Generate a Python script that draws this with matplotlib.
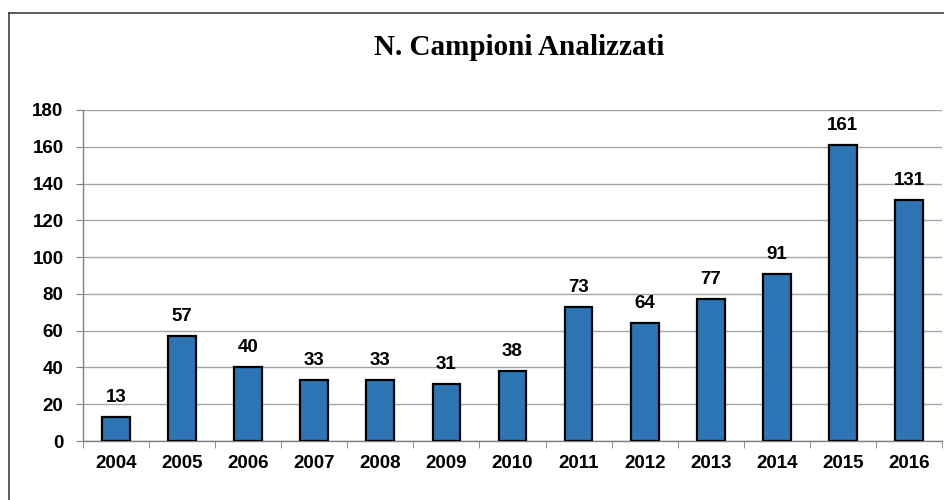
import matplotlib
matplotlib.use("Agg")
import matplotlib.pyplot as plt
from matplotlib.lines import Line2D

years = ["2004", "2005", "2006", "2007", "2008", "2009", "2010",
         "2011", "2012", "2013", "2014", "2015", "2016"]
values = [13, 57, 40, 33, 33, 31, 38, 73, 64, 77, 91, 161, 131]
yticks = [0, 20, 40, 60, 80, 100, 120, 140, 160, 180]

fig = plt.figure(figsize=(9.44, 5.0), dpi=100)
ax = fig.add_axes([0.0879, 0.118, 0.9100, 0.662])

x = list(range(len(years)))
ax.bar(x, values, width=0.42, color="#2E75B6", edgecolor="black", linewidth=1.6, zorder=3)

ax.set_xlim(-0.5, len(years) - 0.5)
ax.set_ylim(0, 180)
ax.set_yticks(yticks)
ax.set_yticklabels([str(v) for v in yticks])
ax.grid(axis="y", color="#a6a6a6", linewidth=1.0, zorder=0)
ax.set_axisbelow(True)

for s in ["top", "right"]:
    ax.spines[s].set_visible(False)
for s in ["left", "bottom"]:
    ax.spines[s].set_color("#808080")
    ax.spines[s].set_linewidth(1.0)

ax.set_xticks(x)
ax.set_xticklabels(years)
ax.tick_params(axis="x", length=0, pad=10)
ax.set_xticks([i - 0.5 for i in range(len(years) + 1)], minor=True)
ax.tick_params(axis="x", which="minor", length=5, color="#808080", direction="out")
ax.tick_params(axis="y", length=5, color="#808080", direction="out", pad=9)

for lab in ax.get_xticklabels() + ax.get_yticklabels():
    lab.set_fontfamily("Liberation Sans")
    lab.set_fontweight("bold")
    lab.set_fontsize(13.5)

for xi, v in zip(x, values):
    ax.annotate(str(v), (xi, v), xytext=(0, 8), textcoords="offset points",
                ha="center", va="bottom", fontfamily="Liberation Sans",
                fontweight="bold", fontsize=13.5)

fig.text(0.55, 0.905, "N. Campioni Analizzati", ha="center", va="center",
         fontfamily="Liberation Serif", fontweight="bold", fontsize=21)

# outer frame (top and left visible)
fig.add_artist(Line2D([0.0095, 1.0], [0.975, 0.975], transform=fig.transFigure,
                      color="#404040", linewidth=1.2))
fig.add_artist(Line2D([0.0100, 0.0100], [0.0, 0.975], transform=fig.transFigure,
                      color="#404040", linewidth=1.2))

fig.savefig("out.png", dpi=100)
